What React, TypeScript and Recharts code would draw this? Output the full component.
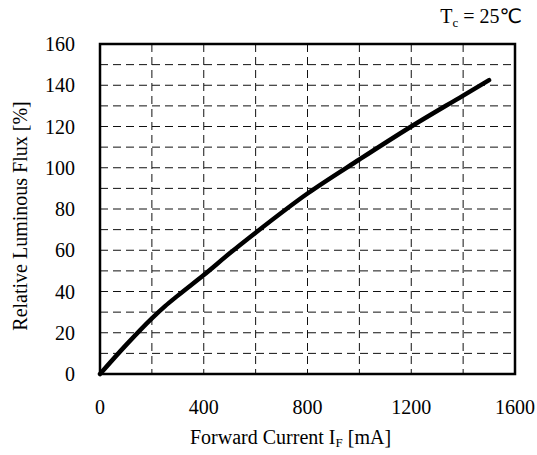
import { CartesianGrid, Line, LineChart, ReferenceArea, XAxis, YAxis } from 'recharts';

const currentMA = [0, 100, 200, 250, 300, 400, 500, 600, 800, 1000, 1200, 1400, 1500];
const relativeFlux = [0, 14, 27, 32.8, 38, 48, 58.5, 68.5, 87.5, 104, 120, 135, 142.5];

const xTicks = [0, 200, 400, 600, 800, 1000, 1200, 1400, 1600];
const yTicks = [0, 10, 20, 30, 40, 50, 60, 70, 80, 90, 100, 110, 120, 130, 140, 150, 160];
const xLabelled = [0, 400, 800, 1200, 1600];
const yLabelled = [0, 20, 40, 60, 80, 100, 120, 140, 160];

const data = currentMA.map((c, i) => ({ current: c, flux: relativeFlux[i] }));

const font = '"Liberation Serif", "Times New Roman", serif';
const tickStyle = { fontFamily: font, fontSize: 20, fill: '#000', style: { fontFamily: font } };

const XTitle = (props: any) => {
    const { viewBox } = props;
    const cx = viewBox.x + viewBox.width / 2 - 17;
    return (
        <text x={cx} y={444} textAnchor="middle" style={{ fontFamily: font }} fontSize={20} fill="#000">
            Forward Current I
            <tspan fontSize={13} dy={3}>F</tspan>
            <tspan dy={-3}> [mA]</tspan>
        </text>
    );
};

const YTitle = () => (
    <text
        x={27}
        y={216}
        transform="rotate(-90, 27, 216)"
        textAnchor="middle"
        style={{ fontFamily: font }}
        fontSize={20}
        fill="#000"
    >
        Relative Luminous Flux [%]
    </text>
);

export default function App() {
    return (
        <div style={{ position: 'absolute', left: 0, top: 0, fontFamily: font }}>
            <LineChart width={537} height={455} data={data} margin={{ top: 44, right: 22, bottom: 0, left: 0 }}>
                <CartesianGrid stroke="#111" strokeWidth={1} strokeDasharray="8 5" />
                <XAxis
                    dataKey="current"
                    type="number"
                    domain={[0, 1600]}
                    ticks={xTicks}
                    interval={0}
                    height={81}
                    axisLine={false}
                    tickLine={false}
                    tickSize={0}
                    tickMargin={26}
                    tick={tickStyle}
                    tickFormatter={(v: number) => (xLabelled.includes(v) ? String(v) : '')}
                    label={<XTitle />}
                />
                <YAxis
                    type="number"
                    domain={[0, 160]}
                    ticks={yTicks}
                    interval={0}
                    width={100}
                    axisLine={false}
                    tickLine={false}
                    tickSize={0}
                    tickMargin={25}
                    tick={tickStyle}
                    tickFormatter={(v: number) => (yLabelled.includes(v) ? String(v) : '')}
                    label={<YTitle />}
                />
                <ReferenceArea x1={0} x2={1600} y1={0} y2={160} fill="none" stroke="#000" strokeWidth={2.5} />
                <Line
                    type="monotone"
                    dataKey="flux"
                    stroke="#000"
                    strokeWidth={4.5}
                    strokeLinecap="round"
                    dot={false}
                    isAnimationActive={false}
                />
                <text x={522} y={23} textAnchor="end" style={{ fontFamily: font }} fontSize={20} fill="#000">
                    T<tspan fontSize={13} dy={4}>c</tspan>
                    <tspan dy={-4}> = 25</tspan>
                    <tspan style={{ fontFamily: '"DejaVu Sans", "Noto Sans CJK SC", sans-serif' }}>℃</tspan>
                </text>
            </LineChart>
        </div>
    );
}
